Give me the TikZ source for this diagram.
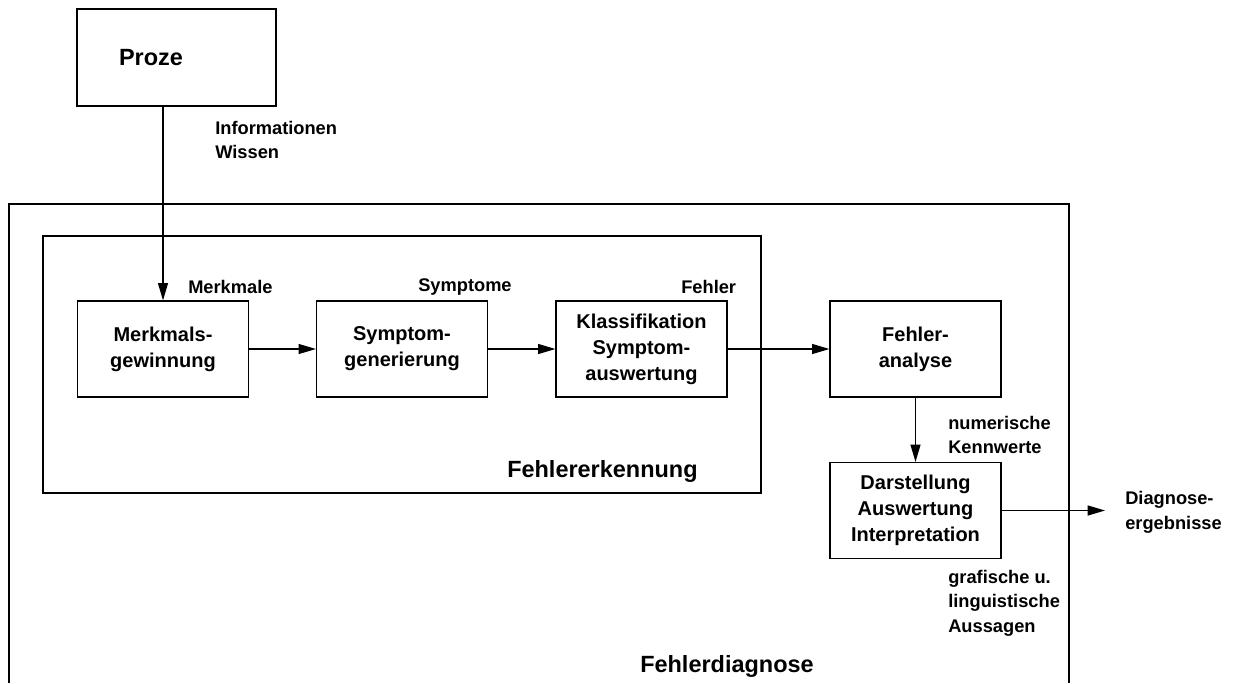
\documentclass[tikz,border=0pt]{standalone}
\usepackage{fontspec}
\setmainfont{Liberation Sans}
\usetikzlibrary{positioning}
\usetikzlibrary{arrows.meta}
\tikzstyle{block}=[rectangle, draw, line width=0.9pt, minimum width=128.25pt, minimum height=72pt, align=center, font=\bfseries\fontsize{15}{19.5}\selectfont]
\tikzstyle{frame}=[draw, line width=0.9pt]
\tikzstyle{tag}=[align=left, anchor=west, inner sep=0pt, font=\bfseries\fontsize{13.7}{18.5}\selectfont]
\tikzstyle{title}=[anchor=west, inner sep=0pt, font=\bfseries\fontsize{17.6}{21}\selectfont]
\tikzstyle{arrow}=[-{Triangle[length=13pt,width=7.5pt]}, line width=0.9pt]

\begin{document}
\begin{tikzpicture}[x=0.75pt, y=-0.75pt]
    \useasboundingbox (0,0) rectangle (1233,683);

    % frames
    \draw [frame] (9,683) -- (9,204) -- (1069,204) -- (1069,683);
    \draw [frame] (43,236) rectangle (761,493);
    \node [title] (erkennung) at (507,471) {Fehlererkennung};
    \node [title] (diagnose) at (640,666) {Fehlerdiagnose};

    % blocks
    \node [block, minimum width=149.25pt, minimum height=72.75pt, text width=86.25pt, inner xsep=31.5pt, align=left, font=\bfseries\fontsize{17.6}{21}\selectfont] (proze) at (176.5,57.5) {Proze};
    \node [block] (merkmal) at (163,349) {Merkmals-\\gewinnung};
    \node [block] (symptom) at (402,349) {Symptom-\\generierung};
    \node [block] (klass) at (641.5,349) {Klassifikation\\Symptom-\\auswertung};
    \node [block] (analyse) at (915.5,349) {Fehler-\\analyse};
    \node [block] (darst) at (915.5,510.5) {Darstellung\\Auswertung\\Interpretation};

    % tags
    \node [tag] (info) at (215,140) {Informationen\\Wissen};
    \node [tag] (merkmale) at (188,287) {Merkmale};
    \node [tag] (symptome) at (418,287) {Symptome};
    \node [tag] (fehler) at (681,287) {Fehler};
    \node [tag] (kennwerte) at (948,435) {numerische\\Kennwerte};
    \node [tag] (aussagen) at (948,603) {grafische u.\\linguistische\\Aussagen};
    \node [tag] (ergebnis) at (1125,512) {Diagnose-\\ergebnisse};

    % arrows
    \draw [arrow] (merkmal.north |- proze.south) -- (merkmal);
    \foreach \a/\b in {merkmal/symptom, symptom/klass, klass/analyse}
    \draw [arrow] (\a) -- (\b);
    \draw [arrow] (analyse) -- (darst);
    \draw [arrow, shorten >=15pt] (darst) -- (darst.east -| ergebnis.west);
  \end{tikzpicture}
\end{document}
